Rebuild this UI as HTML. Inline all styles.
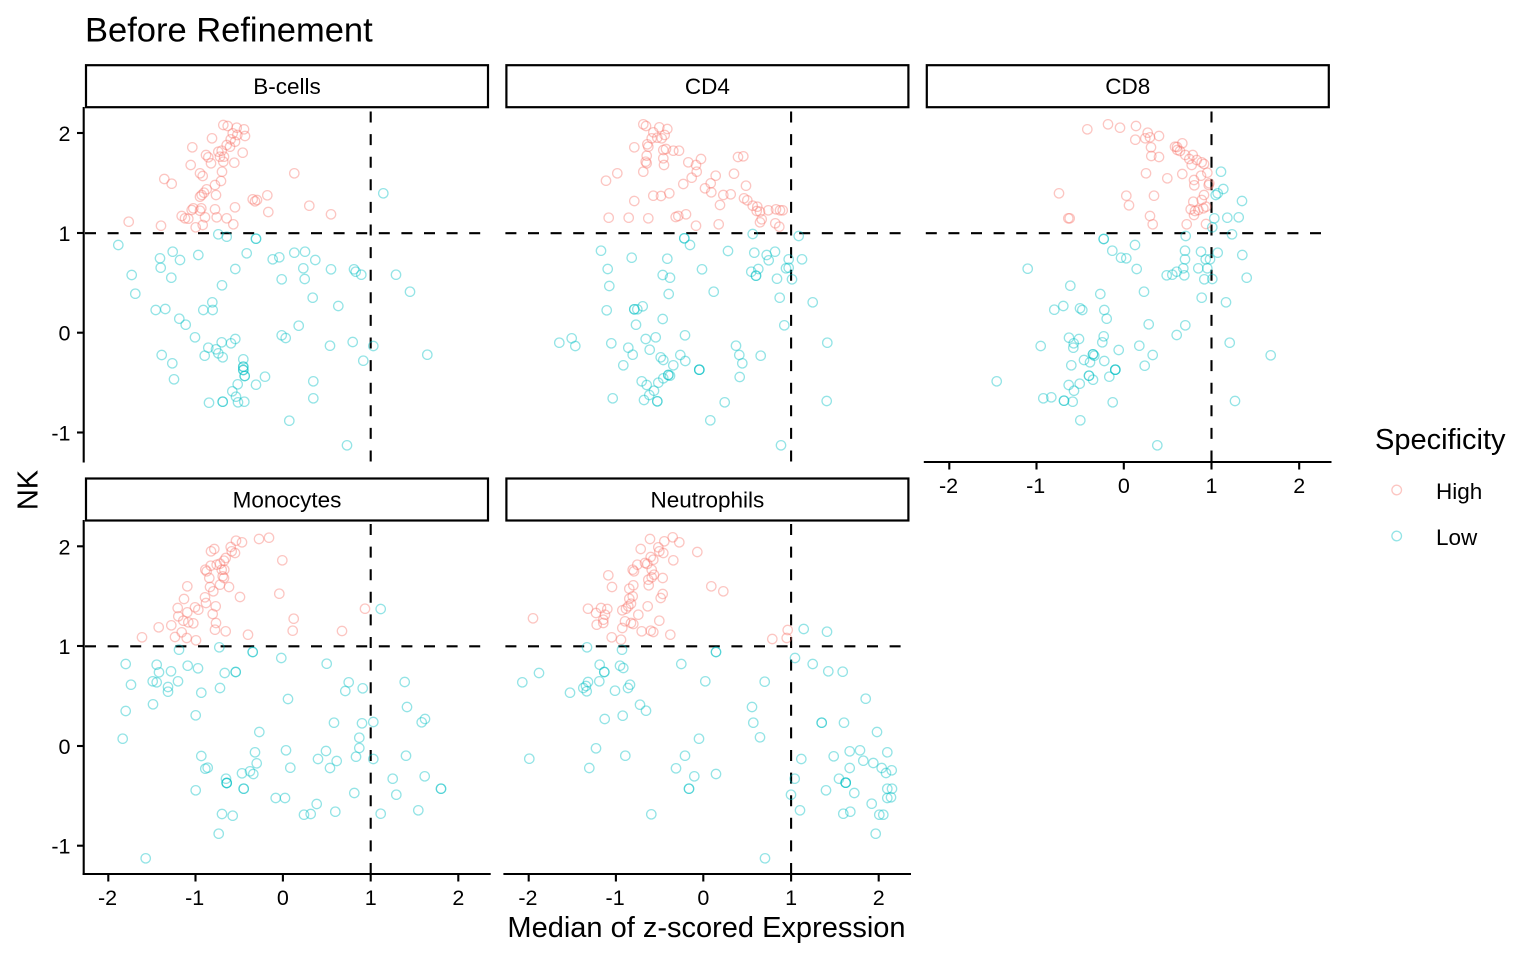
<!DOCTYPE html>
<html><head><meta charset="utf-8"><style>
html,body{margin:0;padding:0;background:#fff;}
svg{display:block;}
text{font-family:"Liberation Sans",Arial,sans-serif;fill:#000;}
.p circle{fill:none;stroke:#F8766D;stroke-width:1.3;stroke-opacity:0.42;}
.c circle{fill:none;stroke:#00BFC4;stroke-width:1.3;stroke-opacity:0.42;}
.ax{stroke:#000;stroke-width:2.1;fill:none;stroke-linecap:butt;}
.dl{stroke:#000;stroke-width:2.1;stroke-dasharray:11 11.6;fill:none;}
.st{fill:#fff;stroke:#000;stroke-width:2.2;}
.tk{font-size:21.5px;}
.sx{font-size:22.5px;}
</style></head><body>
<svg width="1536" height="960" viewBox="0 0 1536 960" xmlns="http://www.w3.org/2000/svg">
<rect width="1536" height="960" fill="#fff"/>
<text x="85" y="41.7" style="font-size:34.5px">Before Refinement</text>

<!-- strips -->
<rect class="st" x="86" y="65.2" width="402" height="42"/>
<rect class="st" x="506.4" y="65.2" width="402" height="42"/>
<rect class="st" x="926.8" y="65.2" width="402" height="42"/>
<rect class="st" x="86" y="478.5" width="402" height="42"/>
<rect class="st" x="506.4" y="478.5" width="402" height="42"/>
<text class="sx" x="287" y="94" text-anchor="middle">B-cells</text>
<text class="sx" x="707.4" y="94" text-anchor="middle">CD4</text>
<text class="sx" x="1127.8" y="94" text-anchor="middle">CD8</text>
<text class="sx" x="287" y="507.3" text-anchor="middle">Monocytes</text>
<text class="sx" x="707.4" y="507.3" text-anchor="middle">Neutrophils</text>

<!-- dashed reference lines -->
<line class="dl" x1="85" y1="233.2" x2="489" y2="233.2"/>
<line class="dl" x1="505.4" y1="233.2" x2="909.4" y2="233.2"/>
<line class="dl" x1="925.8" y1="233.2" x2="1329.8" y2="233.2"/>
<line class="dl" x1="85" y1="646.3" x2="489" y2="646.3"/>
<line class="dl" x1="505.4" y1="646.3" x2="909.4" y2="646.3"/>
<line class="dl" x1="370.7" y1="461.5" x2="370.7" y2="108"/>
<line class="dl" x1="791.1" y1="461.5" x2="791.1" y2="108"/>
<line class="dl" x1="1211.5" y1="461.5" x2="1211.5" y2="108"/>
<line class="dl" x1="370.7" y1="874" x2="370.7" y2="521"/>
<line class="dl" x1="791.1" y1="874" x2="791.1" y2="521"/>

<!-- axes -->
<line class="ax" x1="83.7" y1="107" x2="83.7" y2="462.5"/>
<line class="ax" x1="83.7" y1="520" x2="83.7" y2="875"/>
<line class="ax" x1="82.7" y1="874" x2="490.7" y2="874"/>
<line class="ax" x1="503.4" y1="874" x2="911" y2="874"/>
<line class="ax" x1="923.8" y1="462" x2="1331.5" y2="462"/>
<!-- y ticks -->
<g class="ax">
<line x1="77" y1="133" x2="84" y2="133"/><line x1="77" y1="233" x2="84" y2="233"/><line x1="77" y1="332.7" x2="84" y2="332.7"/><line x1="77" y1="432.5" x2="84" y2="432.5"/>
<line x1="77" y1="546.3" x2="84" y2="546.3"/><line x1="77" y1="646" x2="84" y2="646"/><line x1="77" y1="746" x2="84" y2="746"/><line x1="77" y1="845.7" x2="84" y2="845.7"/>
<!-- x ticks bottom row -->
<line x1="108.3" y1="874" x2="108.3" y2="881.5"/><line x1="195.5" y1="874" x2="195.5" y2="881.5"/><line x1="282.9" y1="874" x2="282.9" y2="881.5"/><line x1="370.7" y1="874" x2="370.7" y2="881.5"/><line x1="458.3" y1="874" x2="458.3" y2="881.5"/>
<line x1="528.7" y1="874" x2="528.7" y2="881.5"/><line x1="615.9" y1="874" x2="615.9" y2="881.5"/><line x1="703.3" y1="874" x2="703.3" y2="881.5"/><line x1="791.1" y1="874" x2="791.1" y2="881.5"/><line x1="878.7" y1="874" x2="878.7" y2="881.5"/>
<line x1="949.3" y1="462" x2="949.3" y2="469.5"/><line x1="1036.5" y1="462" x2="1036.5" y2="469.5"/><line x1="1123.8" y1="462" x2="1123.8" y2="469.5"/><line x1="1211.5" y1="462" x2="1211.5" y2="469.5"/><line x1="1299.2" y1="462" x2="1299.2" y2="469.5"/>
</g>
<!-- y tick labels -->
<g class="tk" text-anchor="end">
<text x="70.5" y="141">2</text><text x="70.5" y="241">1</text><text x="70.5" y="340.7">0</text><text x="70.5" y="440.5">-1</text>
<text x="70.5" y="554.3">2</text><text x="70.5" y="654">1</text><text x="70.5" y="754">0</text><text x="70.5" y="853.7">-1</text>
</g>
<!-- x tick labels -->
<g class="tk" text-anchor="middle">
<text x="107.5" y="905">-2</text><text x="194.7" y="905">-1</text><text x="282.9" y="905">0</text><text x="370.7" y="905">1</text><text x="458.3" y="905">2</text>
<text x="527.9" y="905">-2</text><text x="615.1" y="905">-1</text><text x="703.3" y="905">0</text><text x="791.1" y="905">1</text><text x="878.7" y="905">2</text>
<text x="948.5" y="493">-2</text><text x="1035.7" y="493">-1</text><text x="1123.8" y="493">0</text><text x="1211.5" y="493">1</text><text x="1299.2" y="493">2</text>
</g>
<text x="706.5" y="937" text-anchor="middle" style="font-size:29px">Median of z-scored Expression</text>
<text transform="translate(37.5,490) rotate(-90)" text-anchor="middle" style="font-size:29px">NK</text>

<!-- legend -->
<text x="1375" y="449" style="font-size:29px">Specificity</text>
<circle cx="1396.7" cy="490" r="4.8" fill="none" stroke="#F8766D" stroke-width="1.3" stroke-opacity="0.42"/>
<circle cx="1396.7" cy="536" r="4.8" fill="none" stroke="#00BFC4" stroke-width="1.3" stroke-opacity="0.42"/>
<text x="1436" y="499" class="sx">High</text>
<text x="1436" y="545" class="sx">Low</text>

<!-- B-cells -->
<g class="p">
<circle cx="223.3" cy="125" r="4.7"/><circle cx="227.7" cy="126" r="4.7"/><circle cx="236.7" cy="127.7" r="4.7"/><circle cx="244" cy="129.3" r="4.7"/><circle cx="245" cy="136" r="4.7"/><circle cx="237.3" cy="135" r="4.7"/><circle cx="232.7" cy="133.3" r="4.7"/><circle cx="230.7" cy="139.3" r="4.7"/><circle cx="235" cy="141.7" r="4.7"/><circle cx="226.7" cy="145" r="4.7"/><circle cx="230" cy="146.7" r="4.7"/><circle cx="221.7" cy="150.7" r="4.7"/><circle cx="218.3" cy="151.7" r="4.7"/><circle cx="224" cy="156.7" r="4.7"/><circle cx="212" cy="138.3" r="4.7"/><circle cx="192.3" cy="147.3" r="4.7"/><circle cx="206" cy="155" r="4.7"/><circle cx="208.3" cy="157.3" r="4.7"/><circle cx="220" cy="156.7" r="4.7"/><circle cx="242.7" cy="152.7" r="4.7"/><circle cx="223.3" cy="161.7" r="4.7"/><circle cx="234.3" cy="162.7" r="4.7"/><circle cx="190.7" cy="165" r="4.7"/><circle cx="211" cy="163.3" r="4.7"/><circle cx="200" cy="173.3" r="4.7"/><circle cx="202.7" cy="176" r="4.7"/><circle cx="222" cy="171.7" r="4.7"/><circle cx="215" cy="185" r="4.7"/><circle cx="221" cy="181" r="4.7"/><circle cx="164.3" cy="179" r="4.7"/><circle cx="171.7" cy="183.7" r="4.7"/><circle cx="294.3" cy="173.3" r="4.7"/><circle cx="206.7" cy="189.3" r="4.7"/><circle cx="204" cy="192.7" r="4.7"/><circle cx="200" cy="196.7" r="4.7"/><circle cx="201.7" cy="195" r="4.7"/><circle cx="216" cy="195" r="4.7"/><circle cx="267.3" cy="195.3" r="4.7"/><circle cx="252.7" cy="199.3" r="4.7"/><circle cx="255" cy="201.3" r="4.7"/><circle cx="257" cy="200" r="4.7"/><circle cx="268.3" cy="212" r="4.7"/><circle cx="309.3" cy="205.7" r="4.7"/><circle cx="331" cy="214.3" r="4.7"/><circle cx="193.3" cy="208.3" r="4.7"/><circle cx="191.7" cy="210" r="4.7"/><circle cx="200" cy="210.7" r="4.7"/><circle cx="201.3" cy="208.3" r="4.7"/><circle cx="215" cy="209.3" r="4.7"/><circle cx="235" cy="207.3" r="4.7"/><circle cx="181.7" cy="216" r="4.7"/><circle cx="185" cy="218.3" r="4.7"/><circle cx="188.3" cy="218.7" r="4.7"/><circle cx="205" cy="217.3" r="4.7"/><circle cx="216.7" cy="217.3" r="4.7"/><circle cx="226.7" cy="218.3" r="4.7"/><circle cx="233.3" cy="224.3" r="4.7"/><circle cx="128.7" cy="221.7" r="4.7"/><circle cx="161" cy="225.7" r="4.7"/><circle cx="195.7" cy="227.3" r="4.7"/><circle cx="202.7" cy="225" r="4.7"/>
</g>
<g class="c">
<circle cx="383.3" cy="193.3" r="4.7"/><circle cx="218.3" cy="234.3" r="4.7"/><circle cx="226.7" cy="236.7" r="4.7"/><circle cx="256" cy="238.7" r="4.7"/><circle cx="256" cy="238.7" r="4.7"/><circle cx="118.3" cy="245" r="4.7"/><circle cx="160" cy="258.3" r="4.7"/><circle cx="172.7" cy="251.7" r="4.7"/><circle cx="180" cy="260" r="4.7"/><circle cx="198.3" cy="255" r="4.7"/><circle cx="246.7" cy="253.3" r="4.7"/><circle cx="272.7" cy="259.3" r="4.7"/><circle cx="279.3" cy="257.3" r="4.7"/><circle cx="294.3" cy="252.7" r="4.7"/><circle cx="305" cy="251.7" r="4.7"/><circle cx="315.3" cy="260" r="4.7"/><circle cx="131.7" cy="275" r="4.7"/><circle cx="160.7" cy="267.7" r="4.7"/><circle cx="171.3" cy="277.7" r="4.7"/><circle cx="235.3" cy="269" r="4.7"/><circle cx="303.3" cy="268.3" r="4.7"/><circle cx="331" cy="269.3" r="4.7"/><circle cx="354" cy="269.3" r="4.7"/><circle cx="355.7" cy="271.7" r="4.7"/><circle cx="361.3" cy="274.7" r="4.7"/><circle cx="396" cy="274.7" r="4.7"/><circle cx="281.7" cy="279.3" r="4.7"/><circle cx="304.7" cy="279" r="4.7"/><circle cx="135.3" cy="293.7" r="4.7"/><circle cx="222" cy="285.3" r="4.7"/><circle cx="410" cy="291.7" r="4.7"/><circle cx="312.7" cy="297.7" r="4.7"/><circle cx="338.3" cy="306" r="4.7"/><circle cx="155.7" cy="310" r="4.7"/><circle cx="165.3" cy="309" r="4.7"/><circle cx="203.3" cy="310" r="4.7"/><circle cx="212.7" cy="310" r="4.7"/><circle cx="212.3" cy="302.3" r="4.7"/><circle cx="179.3" cy="318.7" r="4.7"/><circle cx="185.7" cy="324.7" r="4.7"/><circle cx="298.7" cy="325.7" r="4.7"/><circle cx="195" cy="337.3" r="4.7"/><circle cx="281.7" cy="335.3" r="4.7"/><circle cx="285.7" cy="338" r="4.7"/><circle cx="208.3" cy="347.7" r="4.7"/><circle cx="216" cy="349.3" r="4.7"/><circle cx="221.7" cy="342.3" r="4.7"/><circle cx="231" cy="343.3" r="4.7"/><circle cx="235.3" cy="339" r="4.7"/><circle cx="330" cy="345.7" r="4.7"/><circle cx="352.7" cy="342" r="4.7"/><circle cx="373.3" cy="346" r="4.7"/><circle cx="427.3" cy="354.7" r="4.7"/><circle cx="161.7" cy="355" r="4.7"/><circle cx="204.7" cy="355.7" r="4.7"/><circle cx="218.3" cy="353.3" r="4.7"/><circle cx="222.7" cy="357.3" r="4.7"/><circle cx="172.3" cy="363.3" r="4.7"/><circle cx="243.3" cy="359.3" r="4.7"/><circle cx="243.3" cy="366.7" r="4.7"/><circle cx="243.3" cy="366.7" r="4.7"/><circle cx="243.3" cy="370" r="4.7"/><circle cx="243.3" cy="370" r="4.7"/><circle cx="244.7" cy="376" r="4.7"/><circle cx="244.7" cy="376" r="4.7"/><circle cx="363.3" cy="360.7" r="4.7"/><circle cx="174" cy="379.3" r="4.7"/><circle cx="265" cy="376.7" r="4.7"/><circle cx="256" cy="384.7" r="4.7"/><circle cx="237.7" cy="384.3" r="4.7"/><circle cx="232.3" cy="391.3" r="4.7"/><circle cx="236" cy="396.7" r="4.7"/><circle cx="313.3" cy="381.3" r="4.7"/><circle cx="313.3" cy="398.3" r="4.7"/><circle cx="209" cy="402.7" r="4.7"/><circle cx="222.7" cy="401.7" r="4.7"/><circle cx="222.7" cy="401.7" r="4.7"/><circle cx="238" cy="402.3" r="4.7"/><circle cx="244.3" cy="401.7" r="4.7"/><circle cx="289.3" cy="420.7" r="4.7"/><circle cx="347" cy="445.3" r="4.7"/>
</g>

<!-- CD4 -->
<g class="p">
<circle cx="643.3" cy="124.3" r="4.7"/><circle cx="646" cy="126" r="4.7"/><circle cx="659.3" cy="127.3" r="4.7"/><circle cx="667.3" cy="129" r="4.7"/><circle cx="653.3" cy="132.3" r="4.7"/><circle cx="664.7" cy="135" r="4.7"/><circle cx="657.3" cy="137.7" r="4.7"/><circle cx="661.7" cy="138.3" r="4.7"/><circle cx="651.7" cy="138.3" r="4.7"/><circle cx="647.3" cy="144.3" r="4.7"/><circle cx="648.3" cy="146.7" r="4.7"/><circle cx="634.3" cy="147.3" r="4.7"/><circle cx="663.3" cy="150" r="4.7"/><circle cx="666" cy="149" r="4.7"/><circle cx="673.3" cy="150.7" r="4.7"/><circle cx="679" cy="150.7" r="4.7"/><circle cx="646.7" cy="155.7" r="4.7"/><circle cx="663.3" cy="158.3" r="4.7"/><circle cx="645.7" cy="161.7" r="4.7"/><circle cx="646.7" cy="163.3" r="4.7"/><circle cx="664" cy="165" r="4.7"/><circle cx="643.3" cy="171.7" r="4.7"/><circle cx="688.3" cy="162.3" r="4.7"/><circle cx="696" cy="165" r="4.7"/><circle cx="701" cy="159" r="4.7"/><circle cx="738" cy="157" r="4.7"/><circle cx="743.3" cy="156.3" r="4.7"/><circle cx="606" cy="180.7" r="4.7"/><circle cx="617.3" cy="173.3" r="4.7"/><circle cx="696.7" cy="171.7" r="4.7"/><circle cx="691.7" cy="177.7" r="4.7"/><circle cx="683.3" cy="184" r="4.7"/><circle cx="715.7" cy="175.7" r="4.7"/><circle cx="734" cy="173.7" r="4.7"/><circle cx="710.7" cy="183.3" r="4.7"/><circle cx="705" cy="188.3" r="4.7"/><circle cx="711.3" cy="192.3" r="4.7"/><circle cx="723.3" cy="195" r="4.7"/><circle cx="730.7" cy="194.3" r="4.7"/><circle cx="746" cy="185.7" r="4.7"/><circle cx="744" cy="198.3" r="4.7"/><circle cx="747.3" cy="200.3" r="4.7"/><circle cx="752.7" cy="205.7" r="4.7"/><circle cx="757.3" cy="206.7" r="4.7"/><circle cx="756.7" cy="211" r="4.7"/><circle cx="760" cy="211.7" r="4.7"/><circle cx="768.3" cy="210.3" r="4.7"/><circle cx="776" cy="209.3" r="4.7"/><circle cx="780" cy="210.3" r="4.7"/><circle cx="782.7" cy="210.3" r="4.7"/><circle cx="720" cy="205" r="4.7"/><circle cx="653.3" cy="195.7" r="4.7"/><circle cx="661" cy="196" r="4.7"/><circle cx="669.3" cy="193.3" r="4.7"/><circle cx="634.3" cy="201" r="4.7"/><circle cx="608.7" cy="217.7" r="4.7"/><circle cx="628.7" cy="217.7" r="4.7"/><circle cx="648.3" cy="218.3" r="4.7"/><circle cx="675.7" cy="217" r="4.7"/><circle cx="678.3" cy="216" r="4.7"/><circle cx="686" cy="214.3" r="4.7"/><circle cx="696" cy="225.7" r="4.7"/><circle cx="718.7" cy="224.3" r="4.7"/><circle cx="761.7" cy="219.3" r="4.7"/><circle cx="760" cy="222.3" r="4.7"/><circle cx="775.3" cy="223.3" r="4.7"/><circle cx="779.3" cy="226.7" r="4.7"/>
</g>
<g class="c">
<circle cx="684.3" cy="238.3" r="4.7"/><circle cx="684.3" cy="238.3" r="4.7"/><circle cx="690" cy="245" r="4.7"/><circle cx="752.7" cy="234" r="4.7"/><circle cx="798.7" cy="236" r="4.7"/><circle cx="601" cy="250.7" r="4.7"/><circle cx="631.7" cy="257.7" r="4.7"/><circle cx="667.3" cy="258.7" r="4.7"/><circle cx="728" cy="251" r="4.7"/><circle cx="754.3" cy="252.7" r="4.7"/><circle cx="766.7" cy="255" r="4.7"/><circle cx="775" cy="251.7" r="4.7"/><circle cx="768.7" cy="260.3" r="4.7"/><circle cx="788.7" cy="259.3" r="4.7"/><circle cx="802" cy="259.3" r="4.7"/><circle cx="607.7" cy="269" r="4.7"/><circle cx="662.7" cy="275" r="4.7"/><circle cx="670" cy="277.7" r="4.7"/><circle cx="702" cy="269.3" r="4.7"/><circle cx="751.3" cy="271.7" r="4.7"/><circle cx="758.3" cy="269" r="4.7"/><circle cx="756" cy="275.7" r="4.7"/><circle cx="756" cy="275.7" r="4.7"/><circle cx="786" cy="268.3" r="4.7"/><circle cx="788.7" cy="267.7" r="4.7"/><circle cx="777" cy="278.7" r="4.7"/><circle cx="792" cy="279.3" r="4.7"/><circle cx="609.3" cy="286" r="4.7"/><circle cx="668.7" cy="294" r="4.7"/><circle cx="713.7" cy="291.7" r="4.7"/><circle cx="779.7" cy="297.7" r="4.7"/><circle cx="812.7" cy="302.3" r="4.7"/><circle cx="606.7" cy="310.3" r="4.7"/><circle cx="634.3" cy="309.3" r="4.7"/><circle cx="634.3" cy="309.3" r="4.7"/><circle cx="637.3" cy="309.3" r="4.7"/><circle cx="642.7" cy="306.3" r="4.7"/><circle cx="662.7" cy="319" r="4.7"/><circle cx="636" cy="324.7" r="4.7"/><circle cx="784.3" cy="325.3" r="4.7"/><circle cx="559.3" cy="342.7" r="4.7"/><circle cx="571.7" cy="338.3" r="4.7"/><circle cx="575.3" cy="346" r="4.7"/><circle cx="611.3" cy="343.3" r="4.7"/><circle cx="645.7" cy="339" r="4.7"/><circle cx="655.7" cy="337.3" r="4.7"/><circle cx="685" cy="335.3" r="4.7"/><circle cx="628.3" cy="347.7" r="4.7"/><circle cx="632.7" cy="354.7" r="4.7"/><circle cx="649.7" cy="349.7" r="4.7"/><circle cx="660.7" cy="357.3" r="4.7"/><circle cx="663.3" cy="360" r="4.7"/><circle cx="673.3" cy="365.3" r="4.7"/><circle cx="680.3" cy="355" r="4.7"/><circle cx="685.3" cy="361" r="4.7"/><circle cx="736" cy="345.7" r="4.7"/><circle cx="739.3" cy="355" r="4.7"/><circle cx="742.3" cy="363.3" r="4.7"/><circle cx="760.7" cy="355.7" r="4.7"/><circle cx="827.3" cy="342.7" r="4.7"/><circle cx="623.3" cy="365.3" r="4.7"/><circle cx="699.3" cy="369.7" r="4.7"/><circle cx="699.3" cy="369.7" r="4.7"/><circle cx="699.3" cy="369.7" r="4.7"/><circle cx="668.3" cy="375" r="4.7"/><circle cx="668.3" cy="375" r="4.7"/><circle cx="670" cy="375.7" r="4.7"/><circle cx="663.3" cy="378.3" r="4.7"/><circle cx="658.3" cy="382.7" r="4.7"/><circle cx="641.7" cy="381.3" r="4.7"/><circle cx="646.7" cy="385" r="4.7"/><circle cx="654" cy="390.7" r="4.7"/><circle cx="649.3" cy="395" r="4.7"/><circle cx="644" cy="400" r="4.7"/><circle cx="657.3" cy="401.3" r="4.7"/><circle cx="657.3" cy="401.3" r="4.7"/><circle cx="612.7" cy="398.3" r="4.7"/><circle cx="739.7" cy="377" r="4.7"/><circle cx="724.7" cy="402.3" r="4.7"/><circle cx="826.7" cy="401" r="4.7"/><circle cx="710.3" cy="420.3" r="4.7"/><circle cx="781" cy="445.3" r="4.7"/>
</g>

<!-- CD8 -->
<g class="p">
<circle cx="1087.3" cy="129.3" r="4.7"/><circle cx="1108" cy="124.3" r="4.7"/><circle cx="1120" cy="127.7" r="4.7"/><circle cx="1136" cy="126" r="4.7"/><circle cx="1147.7" cy="132.7" r="4.7"/><circle cx="1150" cy="137.3" r="4.7"/><circle cx="1145.3" cy="138.3" r="4.7"/><circle cx="1159" cy="136" r="4.7"/><circle cx="1135.3" cy="139.7" r="4.7"/><circle cx="1151" cy="147.3" r="4.7"/><circle cx="1151.3" cy="156" r="4.7"/><circle cx="1159" cy="157" r="4.7"/><circle cx="1175" cy="146.7" r="4.7"/><circle cx="1177.3" cy="150" r="4.7"/><circle cx="1177" cy="147" r="4.7"/><circle cx="1182.3" cy="143.3" r="4.7"/><circle cx="1180" cy="151" r="4.7"/><circle cx="1185.3" cy="155" r="4.7"/><circle cx="1192.7" cy="155" r="4.7"/><circle cx="1189.3" cy="159" r="4.7"/><circle cx="1196.7" cy="160" r="4.7"/><circle cx="1201.7" cy="162.3" r="4.7"/><circle cx="1204" cy="164" r="4.7"/><circle cx="1191.7" cy="165" r="4.7"/><circle cx="1146" cy="173.3" r="4.7"/><circle cx="1167.3" cy="178.3" r="4.7"/><circle cx="1182.3" cy="174" r="4.7"/><circle cx="1194" cy="180" r="4.7"/><circle cx="1194.3" cy="185.3" r="4.7"/><circle cx="1201" cy="175.7" r="4.7"/><circle cx="1207.3" cy="172.7" r="4.7"/><circle cx="1209.3" cy="183.3" r="4.7"/><circle cx="1208.7" cy="185" r="4.7"/><circle cx="1059" cy="193.3" r="4.7"/><circle cx="1126.3" cy="195.7" r="4.7"/><circle cx="1129" cy="205.3" r="4.7"/><circle cx="1154" cy="195.7" r="4.7"/><circle cx="1150" cy="216" r="4.7"/><circle cx="1152.7" cy="224.3" r="4.7"/><circle cx="1069.7" cy="218.3" r="4.7"/><circle cx="1068.3" cy="218.3" r="4.7"/><circle cx="1193.3" cy="201.7" r="4.7"/><circle cx="1201.7" cy="200" r="4.7"/><circle cx="1204" cy="195" r="4.7"/><circle cx="1190.7" cy="209.3" r="4.7"/><circle cx="1195" cy="211" r="4.7"/><circle cx="1198.3" cy="210" r="4.7"/><circle cx="1203.3" cy="208.3" r="4.7"/><circle cx="1206" cy="206.7" r="4.7"/><circle cx="1194" cy="215" r="4.7"/><circle cx="1186.7" cy="224.3" r="4.7"/><circle cx="1206" cy="224" r="4.7"/>
</g>
<g class="c">
<circle cx="1221" cy="171.7" r="4.7"/><circle cx="1217.7" cy="193.3" r="4.7"/><circle cx="1223.3" cy="189" r="4.7"/><circle cx="1215.7" cy="195" r="4.7"/><circle cx="1242" cy="201" r="4.7"/><circle cx="1214.3" cy="218.3" r="4.7"/><circle cx="1227.3" cy="217.7" r="4.7"/><circle cx="1238.7" cy="217.3" r="4.7"/><circle cx="1212.3" cy="227.3" r="4.7"/><circle cx="1232" cy="234.3" r="4.7"/><circle cx="1103.7" cy="239" r="4.7"/><circle cx="1103.7" cy="239" r="4.7"/><circle cx="1135" cy="245" r="4.7"/><circle cx="1185.7" cy="236" r="4.7"/><circle cx="1112.3" cy="250.7" r="4.7"/><circle cx="1121" cy="257.7" r="4.7"/><circle cx="1126.3" cy="258.3" r="4.7"/><circle cx="1185" cy="250.7" r="4.7"/><circle cx="1201" cy="251.7" r="4.7"/><circle cx="1217.7" cy="252.7" r="4.7"/><circle cx="1242.3" cy="255" r="4.7"/><circle cx="1185" cy="259.3" r="4.7"/><circle cx="1205.7" cy="259.3" r="4.7"/><circle cx="1210" cy="259.3" r="4.7"/><circle cx="1027.7" cy="268.7" r="4.7"/><circle cx="1136.7" cy="269" r="4.7"/><circle cx="1183.3" cy="268.3" r="4.7"/><circle cx="1198.3" cy="268.3" r="4.7"/><circle cx="1207.3" cy="268.3" r="4.7"/><circle cx="1166.7" cy="275.3" r="4.7"/><circle cx="1172.3" cy="274.7" r="4.7"/><circle cx="1176.7" cy="271.7" r="4.7"/><circle cx="1184.3" cy="275.3" r="4.7"/><circle cx="1204.3" cy="279.3" r="4.7"/><circle cx="1212.3" cy="279" r="4.7"/><circle cx="1246.7" cy="277.7" r="4.7"/><circle cx="1070.3" cy="285.7" r="4.7"/><circle cx="1144" cy="291.7" r="4.7"/><circle cx="1100.3" cy="294" r="4.7"/><circle cx="1201.7" cy="297.7" r="4.7"/><circle cx="1226" cy="302.3" r="4.7"/><circle cx="1054.3" cy="309.7" r="4.7"/><circle cx="1063.3" cy="306" r="4.7"/><circle cx="1080" cy="308.3" r="4.7"/><circle cx="1082.3" cy="310" r="4.7"/><circle cx="1104.3" cy="310" r="4.7"/><circle cx="1106.7" cy="318.7" r="4.7"/><circle cx="1148.7" cy="324.3" r="4.7"/><circle cx="1185.3" cy="325.3" r="4.7"/><circle cx="1176.7" cy="335" r="4.7"/><circle cx="1069" cy="337.7" r="4.7"/><circle cx="1079" cy="339" r="4.7"/><circle cx="1073.7" cy="343.3" r="4.7"/><circle cx="1073.3" cy="347.7" r="4.7"/><circle cx="1103.7" cy="336.3" r="4.7"/><circle cx="1102.3" cy="342.3" r="4.7"/><circle cx="1040.7" cy="346" r="4.7"/><circle cx="1118.7" cy="350" r="4.7"/><circle cx="1139.3" cy="345.7" r="4.7"/><circle cx="1152.7" cy="355" r="4.7"/><circle cx="1229.7" cy="342.7" r="4.7"/><circle cx="1270.7" cy="355.3" r="4.7"/><circle cx="1093" cy="354.3" r="4.7"/><circle cx="1093" cy="354.3" r="4.7"/><circle cx="1094.3" cy="355.7" r="4.7"/><circle cx="1084" cy="360" r="4.7"/><circle cx="1090" cy="362.3" r="4.7"/><circle cx="1104.3" cy="361" r="4.7"/><circle cx="1071.3" cy="365.3" r="4.7"/><circle cx="1144.7" cy="365.7" r="4.7"/><circle cx="1115.3" cy="369.7" r="4.7"/><circle cx="1115.3" cy="369.7" r="4.7"/><circle cx="1115.3" cy="369.7" r="4.7"/><circle cx="1089" cy="375.7" r="4.7"/><circle cx="1089" cy="375.7" r="4.7"/><circle cx="1093" cy="379.7" r="4.7"/><circle cx="1109.3" cy="376.7" r="4.7"/><circle cx="1079.7" cy="383.7" r="4.7"/><circle cx="1068.7" cy="385" r="4.7"/><circle cx="1074" cy="390.7" r="4.7"/><circle cx="996.7" cy="381.3" r="4.7"/><circle cx="1043.3" cy="398.3" r="4.7"/><circle cx="1051.3" cy="397.3" r="4.7"/><circle cx="1064" cy="400.7" r="4.7"/><circle cx="1064" cy="400.7" r="4.7"/><circle cx="1072.7" cy="401.7" r="4.7"/><circle cx="1112.7" cy="402.3" r="4.7"/><circle cx="1235" cy="401" r="4.7"/><circle cx="1080.3" cy="420.3" r="4.7"/><circle cx="1157.3" cy="445.3" r="4.7"/>
</g>

<!-- Monocytes -->
<g class="p">
<circle cx="259" cy="539" r="4.7"/><circle cx="269" cy="537.7" r="4.7"/><circle cx="236" cy="540.7" r="4.7"/><circle cx="242" cy="542.3" r="4.7"/><circle cx="230.7" cy="547" r="4.7"/><circle cx="231.7" cy="551.3" r="4.7"/><circle cx="235" cy="553" r="4.7"/><circle cx="214.3" cy="549" r="4.7"/><circle cx="211" cy="551.3" r="4.7"/><circle cx="225.7" cy="558" r="4.7"/><circle cx="224" cy="560.7" r="4.7"/><circle cx="282.3" cy="560.3" r="4.7"/><circle cx="220" cy="563.7" r="4.7"/><circle cx="216.7" cy="564.7" r="4.7"/><circle cx="210.7" cy="565.7" r="4.7"/><circle cx="205.3" cy="569.7" r="4.7"/><circle cx="206.7" cy="571.3" r="4.7"/><circle cx="221.7" cy="569.7" r="4.7"/><circle cx="224.3" cy="569.7" r="4.7"/><circle cx="222.7" cy="576.3" r="4.7"/><circle cx="224" cy="578" r="4.7"/><circle cx="209.3" cy="578" r="4.7"/><circle cx="187.3" cy="586.3" r="4.7"/><circle cx="210" cy="587" r="4.7"/><circle cx="220" cy="584.7" r="4.7"/><circle cx="229" cy="587" r="4.7"/><circle cx="213.3" cy="591.3" r="4.7"/><circle cx="279.3" cy="593.7" r="4.7"/><circle cx="240" cy="597" r="4.7"/><circle cx="184" cy="599" r="4.7"/><circle cx="205" cy="597.3" r="4.7"/><circle cx="206" cy="603" r="4.7"/><circle cx="215.7" cy="606.3" r="4.7"/><circle cx="195" cy="607.3" r="4.7"/><circle cx="198.3" cy="609.7" r="4.7"/><circle cx="177.7" cy="608" r="4.7"/><circle cx="187.3" cy="612.3" r="4.7"/><circle cx="212.7" cy="614" r="4.7"/><circle cx="178.3" cy="616.3" r="4.7"/><circle cx="183.3" cy="620.7" r="4.7"/><circle cx="188.3" cy="622.3" r="4.7"/><circle cx="193.3" cy="623.3" r="4.7"/><circle cx="171.3" cy="625.3" r="4.7"/><circle cx="158.7" cy="627.3" r="4.7"/><circle cx="216" cy="623" r="4.7"/><circle cx="215" cy="629.7" r="4.7"/><circle cx="225.7" cy="631.3" r="4.7"/><circle cx="181.7" cy="632.3" r="4.7"/><circle cx="175" cy="637" r="4.7"/><circle cx="186.7" cy="638" r="4.7"/><circle cx="196" cy="640.3" r="4.7"/><circle cx="142" cy="637.3" r="4.7"/><circle cx="248" cy="634.7" r="4.7"/><circle cx="293.7" cy="618.7" r="4.7"/><circle cx="292.7" cy="630.7" r="4.7"/><circle cx="342" cy="631" r="4.7"/><circle cx="365" cy="608.7" r="4.7"/>
</g>
<g class="c">
<circle cx="380.7" cy="609" r="4.7"/><circle cx="179" cy="649.7" r="4.7"/><circle cx="219.3" cy="647.3" r="4.7"/><circle cx="252.7" cy="652" r="4.7"/><circle cx="252.7" cy="652" r="4.7"/><circle cx="281.3" cy="658" r="4.7"/><circle cx="125.7" cy="664" r="4.7"/><circle cx="156.7" cy="664.7" r="4.7"/><circle cx="159" cy="672.3" r="4.7"/><circle cx="171" cy="671.3" r="4.7"/><circle cx="187.7" cy="665.7" r="4.7"/><circle cx="198" cy="668.3" r="4.7"/><circle cx="224.7" cy="673" r="4.7"/><circle cx="235.7" cy="672" r="4.7"/><circle cx="235.7" cy="672" r="4.7"/><circle cx="326.7" cy="663.7" r="4.7"/><circle cx="131" cy="684.7" r="4.7"/><circle cx="152.7" cy="681.3" r="4.7"/><circle cx="156.7" cy="682.3" r="4.7"/><circle cx="168" cy="687" r="4.7"/><circle cx="168" cy="691.7" r="4.7"/><circle cx="178" cy="681.3" r="4.7"/><circle cx="201.3" cy="692.7" r="4.7"/><circle cx="220" cy="688" r="4.7"/><circle cx="288" cy="699" r="4.7"/><circle cx="348.7" cy="682.3" r="4.7"/><circle cx="345.3" cy="691" r="4.7"/><circle cx="362.7" cy="688.3" r="4.7"/><circle cx="404.7" cy="682" r="4.7"/><circle cx="153" cy="704.3" r="4.7"/><circle cx="125.7" cy="711" r="4.7"/><circle cx="195.7" cy="715.3" r="4.7"/><circle cx="407" cy="707" r="4.7"/><circle cx="334" cy="722.7" r="4.7"/><circle cx="362" cy="723.3" r="4.7"/><circle cx="373.3" cy="722" r="4.7"/><circle cx="421.7" cy="722.3" r="4.7"/><circle cx="425" cy="719" r="4.7"/><circle cx="259.3" cy="732" r="4.7"/><circle cx="359.3" cy="737.7" r="4.7"/><circle cx="122.7" cy="738.7" r="4.7"/><circle cx="255" cy="752.3" r="4.7"/><circle cx="256.7" cy="763.3" r="4.7"/><circle cx="286" cy="750.3" r="4.7"/><circle cx="326" cy="751" r="4.7"/><circle cx="318" cy="759" r="4.7"/><circle cx="336.7" cy="761" r="4.7"/><circle cx="330" cy="768" r="4.7"/><circle cx="290.3" cy="767.7" r="4.7"/><circle cx="359.3" cy="748" r="4.7"/><circle cx="356" cy="756.7" r="4.7"/><circle cx="373.3" cy="759" r="4.7"/><circle cx="406" cy="755.7" r="4.7"/><circle cx="201.3" cy="756" r="4.7"/><circle cx="205.3" cy="768.7" r="4.7"/><circle cx="207.7" cy="767.7" r="4.7"/><circle cx="242" cy="773.3" r="4.7"/><circle cx="250" cy="771.3" r="4.7"/><circle cx="253.3" cy="774" r="4.7"/><circle cx="226" cy="778.7" r="4.7"/><circle cx="226.7" cy="783" r="4.7"/><circle cx="226.7" cy="783" r="4.7"/><circle cx="226.7" cy="783" r="4.7"/><circle cx="392.7" cy="778.7" r="4.7"/><circle cx="424.7" cy="776.3" r="4.7"/><circle cx="441" cy="788.7" r="4.7"/><circle cx="441" cy="788.7" r="4.7"/><circle cx="195.7" cy="790.3" r="4.7"/><circle cx="243.7" cy="788.7" r="4.7"/><circle cx="243.7" cy="788.7" r="4.7"/><circle cx="275.7" cy="798" r="4.7"/><circle cx="285" cy="798" r="4.7"/><circle cx="354.3" cy="793" r="4.7"/><circle cx="396.3" cy="794.7" r="4.7"/><circle cx="222" cy="814" r="4.7"/><circle cx="232.7" cy="815.7" r="4.7"/><circle cx="304" cy="814.7" r="4.7"/><circle cx="310.7" cy="814" r="4.7"/><circle cx="316.7" cy="804" r="4.7"/><circle cx="335.3" cy="811.7" r="4.7"/><circle cx="380.7" cy="813.7" r="4.7"/><circle cx="418.3" cy="810.3" r="4.7"/><circle cx="218.7" cy="833.7" r="4.7"/><circle cx="145.7" cy="858.3" r="4.7"/>
</g>

<!-- Neutrophils -->
<g class="p">
<circle cx="650" cy="539" r="4.7"/><circle cx="672.7" cy="537.3" r="4.7"/><circle cx="664.3" cy="541.3" r="4.7"/><circle cx="679.3" cy="542.3" r="4.7"/><circle cx="658.3" cy="547.3" r="4.7"/><circle cx="640.7" cy="549" r="4.7"/><circle cx="659.3" cy="551.3" r="4.7"/><circle cx="663.3" cy="553" r="4.7"/><circle cx="697.3" cy="552" r="4.7"/><circle cx="650.7" cy="557" r="4.7"/><circle cx="653.3" cy="559.7" r="4.7"/><circle cx="673.3" cy="560.3" r="4.7"/><circle cx="645" cy="563" r="4.7"/><circle cx="647.3" cy="564" r="4.7"/><circle cx="637.3" cy="564.7" r="4.7"/><circle cx="632.7" cy="569.7" r="4.7"/><circle cx="634" cy="571.3" r="4.7"/><circle cx="651.7" cy="569.7" r="4.7"/><circle cx="654" cy="574.7" r="4.7"/><circle cx="651.7" cy="577.3" r="4.7"/><circle cx="648.3" cy="579.7" r="4.7"/><circle cx="662.7" cy="578" r="4.7"/><circle cx="608.3" cy="575.3" r="4.7"/><circle cx="612" cy="587" r="4.7"/><circle cx="633.3" cy="585.3" r="4.7"/><circle cx="629.3" cy="588.7" r="4.7"/><circle cx="648.7" cy="585.3" r="4.7"/><circle cx="711.3" cy="586.3" r="4.7"/><circle cx="723.3" cy="591.3" r="4.7"/><circle cx="662.7" cy="594" r="4.7"/><circle cx="660.7" cy="598" r="4.7"/><circle cx="632.7" cy="596.3" r="4.7"/><circle cx="629.3" cy="598.7" r="4.7"/><circle cx="631" cy="603.7" r="4.7"/><circle cx="628.3" cy="606.3" r="4.7"/><circle cx="647.7" cy="606.3" r="4.7"/><circle cx="588" cy="608.7" r="4.7"/><circle cx="601" cy="608" r="4.7"/><circle cx="607.3" cy="609" r="4.7"/><circle cx="596" cy="613" r="4.7"/><circle cx="605" cy="614.7" r="4.7"/><circle cx="622.3" cy="610.3" r="4.7"/><circle cx="626" cy="608.7" r="4.7"/><circle cx="638.3" cy="614.7" r="4.7"/><circle cx="603.3" cy="619.7" r="4.7"/><circle cx="596.7" cy="624.7" r="4.7"/><circle cx="603.3" cy="623" r="4.7"/><circle cx="625" cy="621.3" r="4.7"/><circle cx="631" cy="623" r="4.7"/><circle cx="633.3" cy="624" r="4.7"/><circle cx="622.3" cy="628" r="4.7"/><circle cx="659.3" cy="620.7" r="4.7"/><circle cx="641.7" cy="631.3" r="4.7"/><circle cx="650.7" cy="630.7" r="4.7"/><circle cx="653.3" cy="632" r="4.7"/><circle cx="670.3" cy="634.7" r="4.7"/><circle cx="611.7" cy="637.3" r="4.7"/><circle cx="621" cy="639.7" r="4.7"/><circle cx="533" cy="618.3" r="4.7"/><circle cx="787.7" cy="630" r="4.7"/><circle cx="786.7" cy="638" r="4.7"/><circle cx="772.3" cy="639" r="4.7"/>
</g>
<g class="c">
<circle cx="803.7" cy="629" r="4.7"/><circle cx="827" cy="631.7" r="4.7"/><circle cx="587" cy="647.3" r="4.7"/><circle cx="622" cy="649.7" r="4.7"/><circle cx="716" cy="652" r="4.7"/><circle cx="716" cy="652" r="4.7"/><circle cx="795" cy="658" r="4.7"/><circle cx="681.3" cy="664" r="4.7"/><circle cx="812.7" cy="664" r="4.7"/><circle cx="828.3" cy="671.3" r="4.7"/><circle cx="842.7" cy="671.7" r="4.7"/><circle cx="599.7" cy="664.7" r="4.7"/><circle cx="604.3" cy="672" r="4.7"/><circle cx="604.3" cy="672" r="4.7"/><circle cx="620" cy="665.7" r="4.7"/><circle cx="623.3" cy="668" r="4.7"/><circle cx="539" cy="673" r="4.7"/><circle cx="522.3" cy="682.3" r="4.7"/><circle cx="588" cy="682" r="4.7"/><circle cx="599.3" cy="681.3" r="4.7"/><circle cx="583.3" cy="688" r="4.7"/><circle cx="586.7" cy="691.3" r="4.7"/><circle cx="586" cy="686" r="4.7"/><circle cx="570" cy="692.7" r="4.7"/><circle cx="615" cy="690.7" r="4.7"/><circle cx="630" cy="684.7" r="4.7"/><circle cx="628" cy="688" r="4.7"/><circle cx="705.3" cy="681.3" r="4.7"/><circle cx="764.7" cy="681.7" r="4.7"/><circle cx="865.7" cy="698.7" r="4.7"/><circle cx="640" cy="704.7" r="4.7"/><circle cx="646" cy="710.7" r="4.7"/><circle cx="752" cy="707" r="4.7"/><circle cx="604.7" cy="719" r="4.7"/><circle cx="622.7" cy="715.7" r="4.7"/><circle cx="753.3" cy="722.7" r="4.7"/><circle cx="821.7" cy="722.7" r="4.7"/><circle cx="821.7" cy="722.7" r="4.7"/><circle cx="844" cy="722.7" r="4.7"/><circle cx="877" cy="732" r="4.7"/><circle cx="699" cy="738.7" r="4.7"/><circle cx="760" cy="737.3" r="4.7"/><circle cx="596" cy="748.3" r="4.7"/><circle cx="529.3" cy="758.7" r="4.7"/><circle cx="625.3" cy="755.7" r="4.7"/><circle cx="685" cy="755.7" r="4.7"/><circle cx="801.3" cy="759" r="4.7"/><circle cx="833.7" cy="756.3" r="4.7"/><circle cx="849.7" cy="751.3" r="4.7"/><circle cx="860" cy="750.3" r="4.7"/><circle cx="863.3" cy="760.7" r="4.7"/><circle cx="873.3" cy="763" r="4.7"/><circle cx="887.3" cy="752.3" r="4.7"/><circle cx="881.7" cy="768" r="4.7"/><circle cx="891.7" cy="770.3" r="4.7"/><circle cx="886" cy="773" r="4.7"/><circle cx="589.3" cy="768" r="4.7"/><circle cx="676" cy="768.3" r="4.7"/><circle cx="694.3" cy="776.3" r="4.7"/><circle cx="716" cy="774" r="4.7"/><circle cx="849.7" cy="768" r="4.7"/><circle cx="794.7" cy="778.7" r="4.7"/><circle cx="839" cy="778.7" r="4.7"/><circle cx="845.7" cy="782.7" r="4.7"/><circle cx="845.7" cy="782.7" r="4.7"/><circle cx="845.7" cy="782.7" r="4.7"/><circle cx="689" cy="788.7" r="4.7"/><circle cx="689" cy="788.7" r="4.7"/><circle cx="826" cy="790.3" r="4.7"/><circle cx="854.3" cy="793" r="4.7"/><circle cx="887.3" cy="788.7" r="4.7"/><circle cx="892" cy="788.7" r="4.7"/><circle cx="791" cy="794.7" r="4.7"/><circle cx="887.3" cy="798" r="4.7"/><circle cx="891" cy="797.3" r="4.7"/><circle cx="871.7" cy="803.7" r="4.7"/><circle cx="800" cy="810.3" r="4.7"/><circle cx="843.3" cy="813.7" r="4.7"/><circle cx="850.3" cy="811.7" r="4.7"/><circle cx="879.3" cy="814.7" r="4.7"/><circle cx="883.3" cy="814.7" r="4.7"/><circle cx="875.7" cy="833.7" r="4.7"/><circle cx="651.3" cy="814.3" r="4.7"/><circle cx="765" cy="858.3" r="4.7"/>
</g>
</svg>
</body></html>
